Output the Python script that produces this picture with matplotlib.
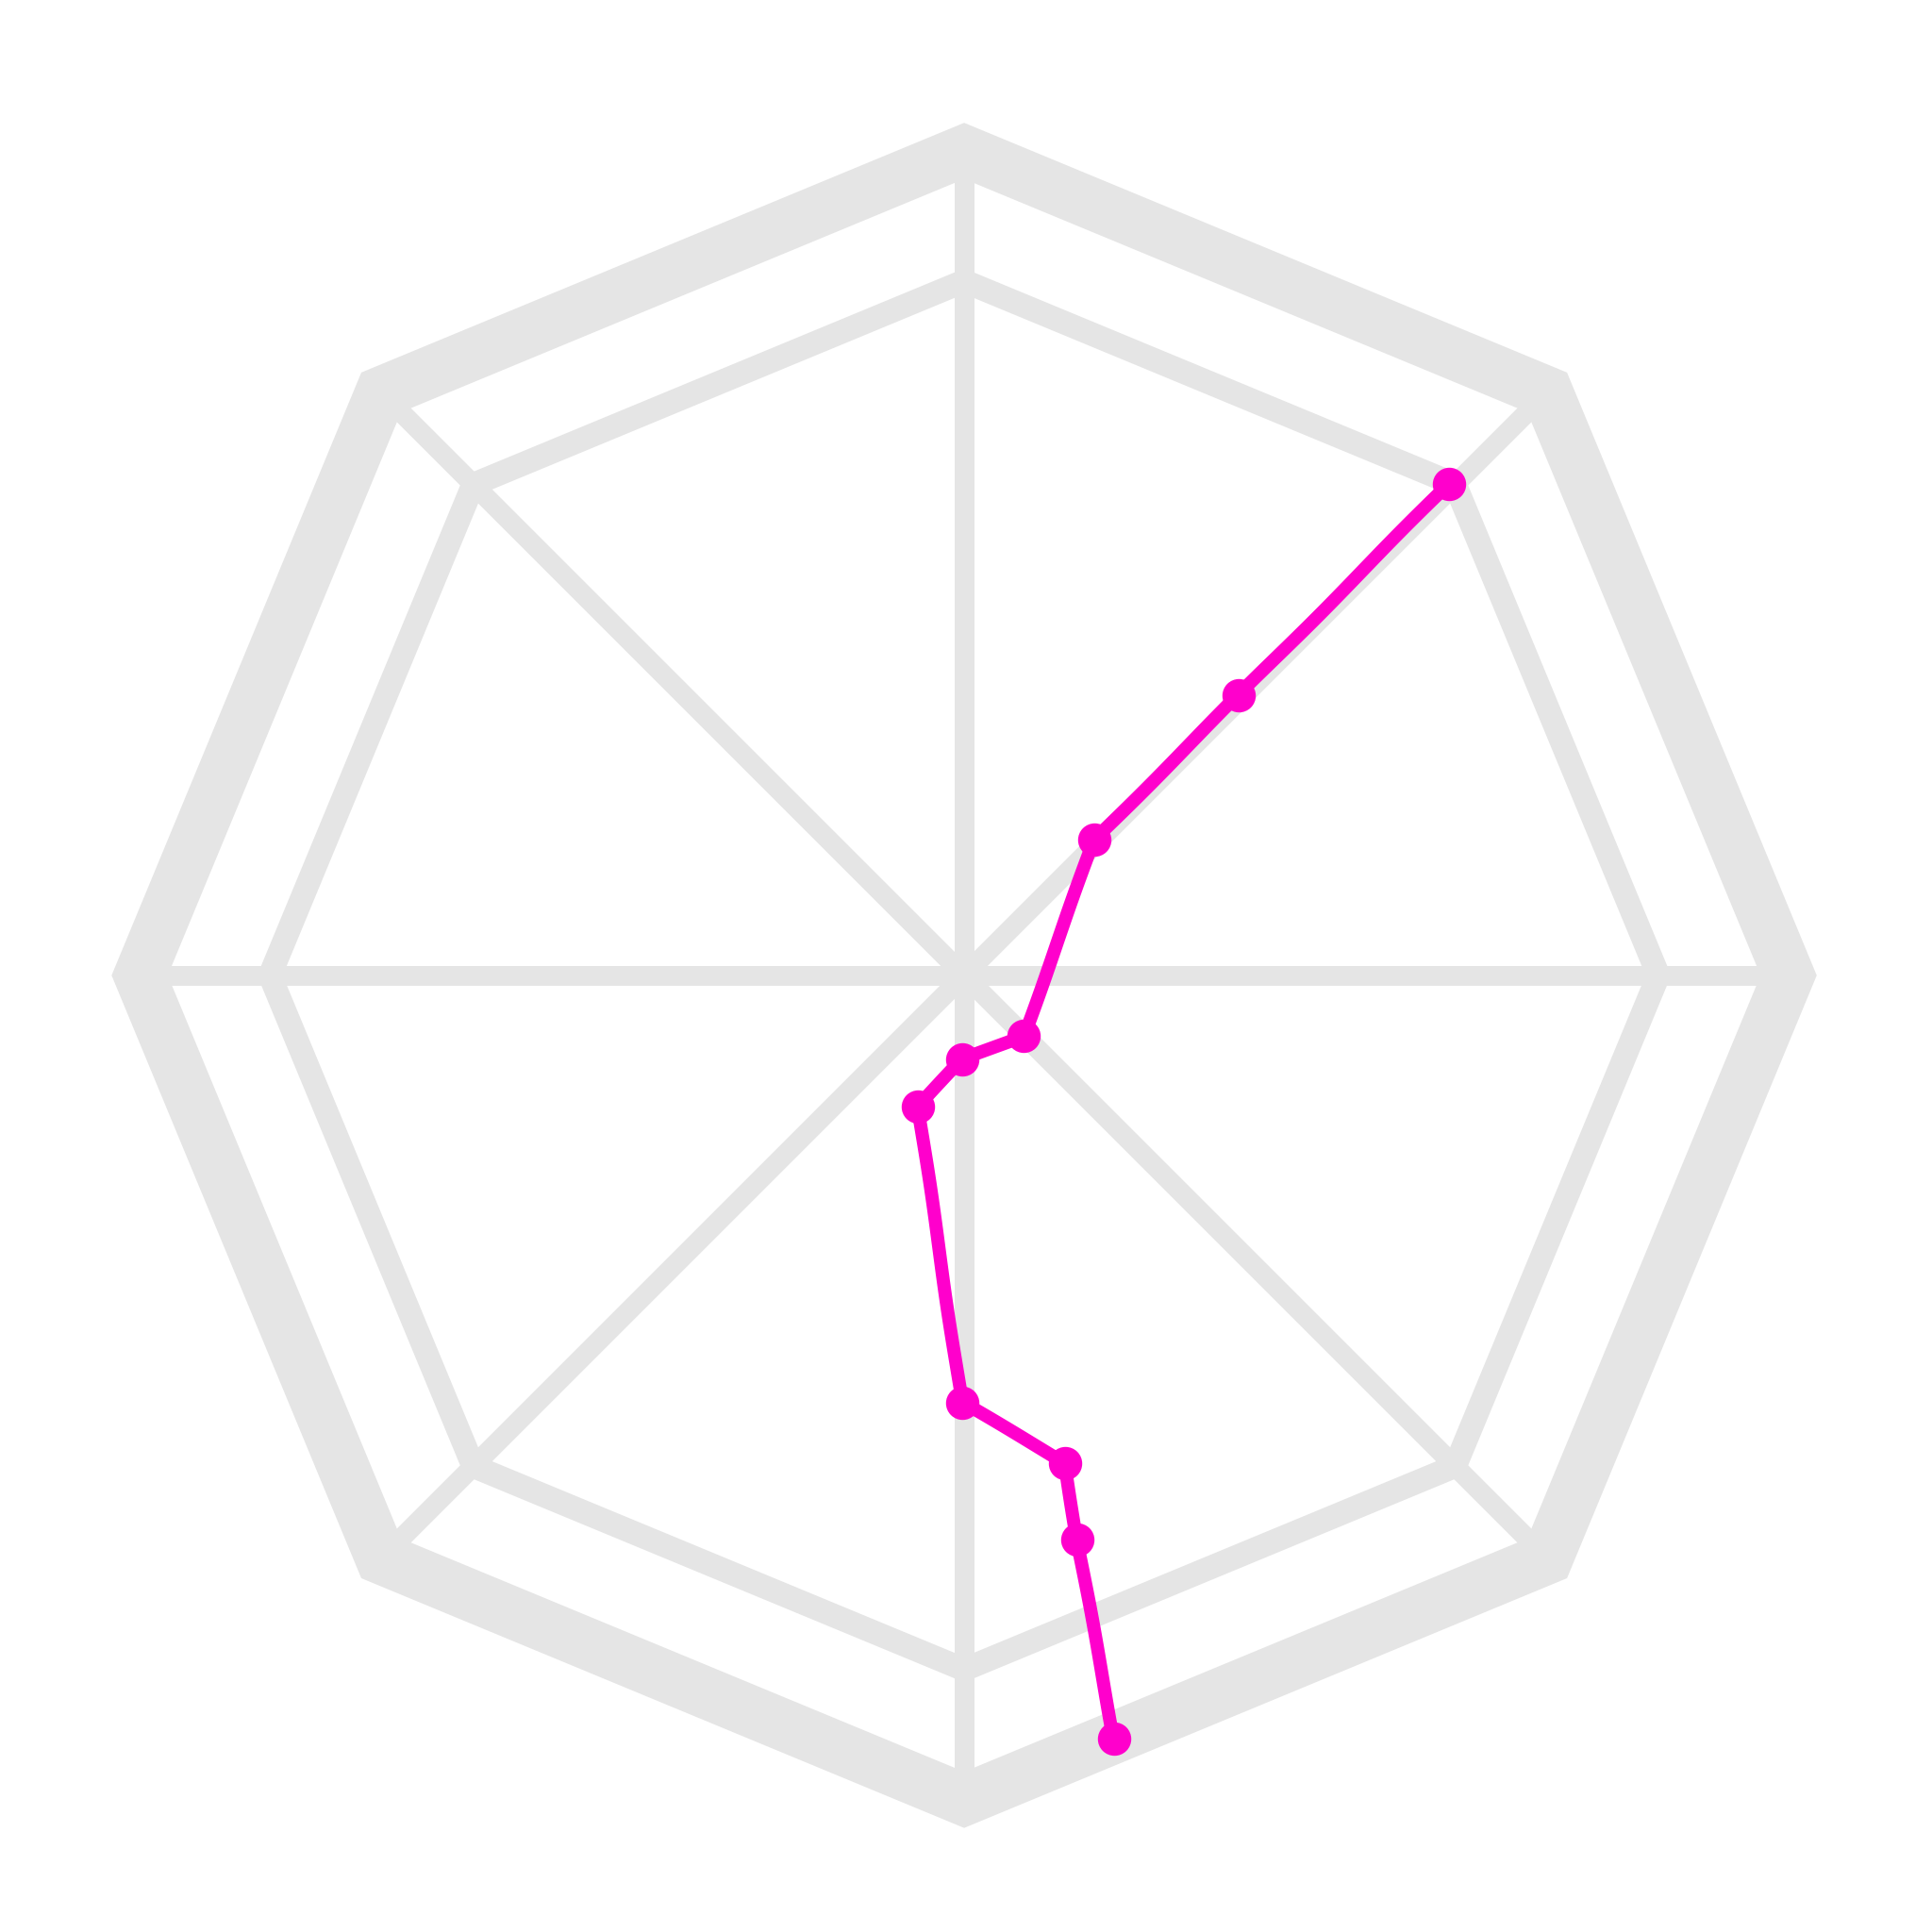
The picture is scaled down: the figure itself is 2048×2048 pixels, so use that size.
import numpy as np
import matplotlib
matplotlib.use("Agg")
import matplotlib.pyplot as plt
import matplotlib.patches as mpatches

# data (angle in degrees, radius as fraction of rmax)
theta_deg = [45.4, 45.6, 46.2, -45.5, -91.3, -109.4, -90.3, -78.3, -78.7, -78.9]
r_vals = [0.837, 0.476, 0.228, 0.103, 0.102, 0.169, 0.518, 0.604, 0.698, 0.943]

# grid setup: 8 spokes, one inner ring and the outer frame
spoke_deg = [0, 45, 90, 135, 180, 225, 270, 315]
ring_levels = [0.842]
frame_level = 1.0

grid_color = "#e5e5e5"
line_color = "#ff00cc"

px = 72 / 100  # points per pixel at dpi 100

fig = plt.figure(figsize=(20.48, 20.48), dpi=100)
ax = fig.add_axes([0.0723, 0.0684, 0.8535, 0.8535], projection="polar")
ax.set_ylim(0, frame_level)
ax.grid(False)
ax.set_xticks([])
ax.set_yticks([])
ax.spines["polar"].set_visible(False)
ax.patch.set_facecolor("white")

spokes = np.deg2rad(spoke_deg)

# spokes
for t in spokes:
    ax.plot([t, t], [0, frame_level], color=grid_color, lw=21 * px,
            solid_capstyle="butt", clip_on=False, zorder=1)

# inner octagon rings
for lev in ring_levels:
    ring = mpatches.Polygon(np.column_stack([spokes, np.full(len(spokes), lev)]),
                            closed=True, fill=False, ec=grid_color, lw=25 * px,
                            joinstyle="miter", transform=ax.transData,
                            clip_on=False, zorder=1)
    ax.add_patch(ring)

# outer octagon frame
frame = mpatches.Polygon(np.column_stack([spokes, np.full(len(spokes), frame_level)]),
                         closed=True, fill=False, ec=grid_color, lw=55 * px,
                         joinstyle="miter", transform=ax.transData,
                         clip_on=False, zorder=1)
ax.add_patch(frame)

# the data line, slightly hand drawn
data_line, = ax.plot(np.deg2rad(theta_deg), r_vals, color=line_color, lw=14 * px,
                     marker="o", markersize=34 * px, clip_on=False, zorder=3,
                     solid_capstyle="round", solid_joinstyle="round")
data_line.set_sketch_params(0.7, 260, 1)

fig.savefig("out.png", dpi=100, facecolor="white")
